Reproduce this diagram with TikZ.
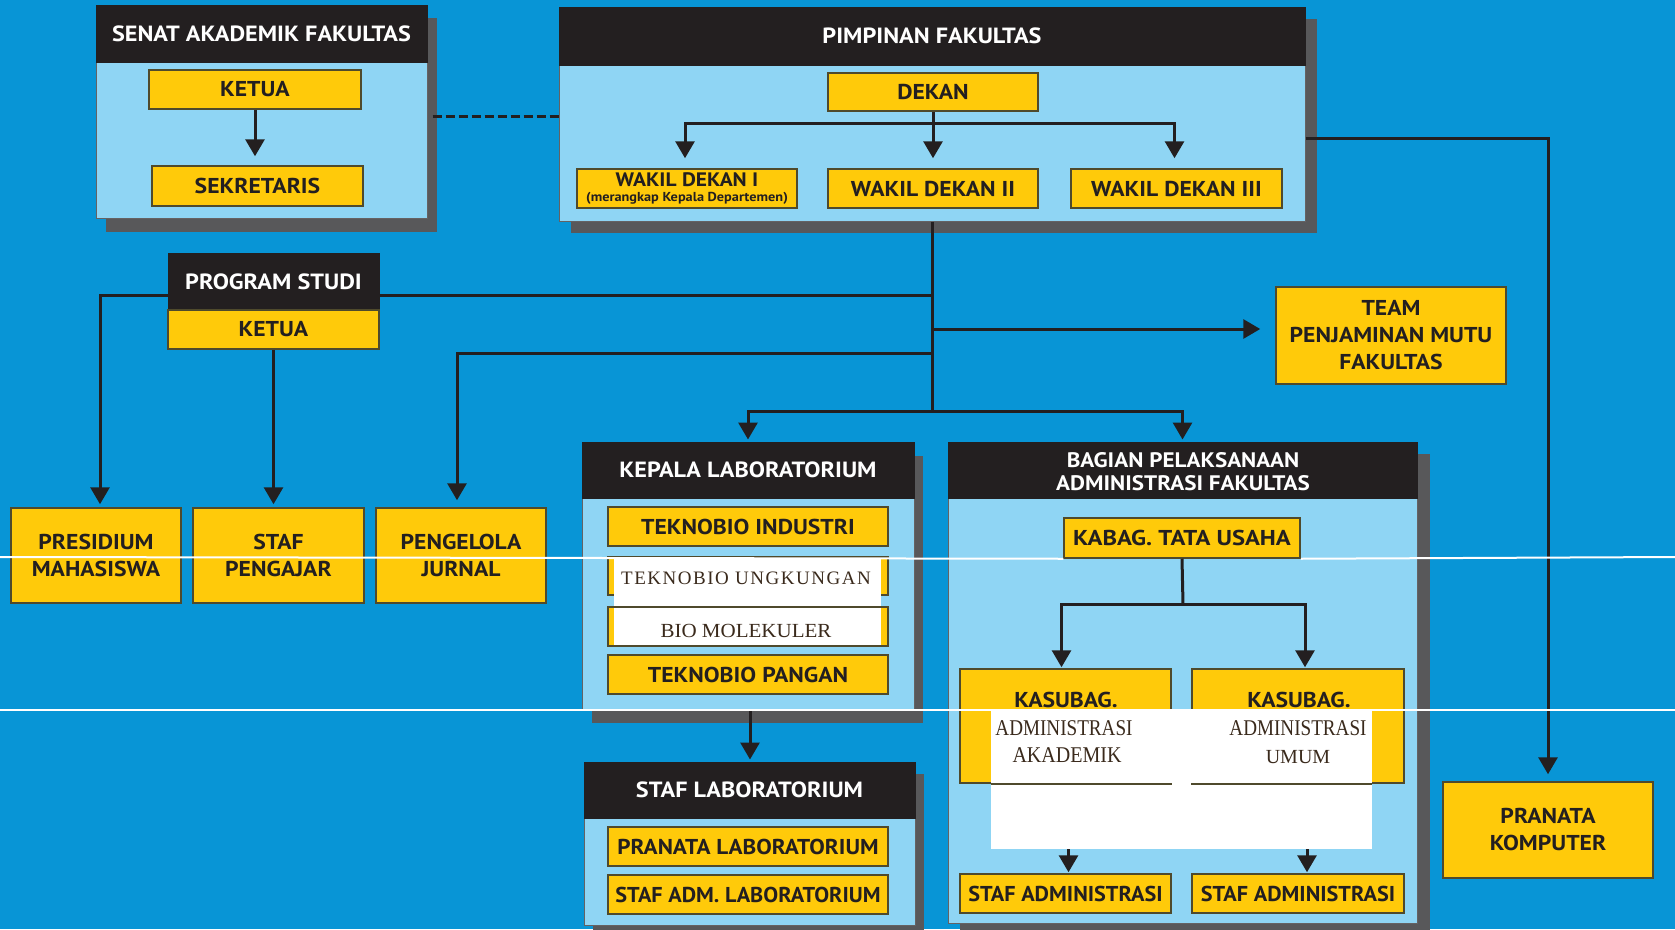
\documentclass[tikz,border=0pt]{standalone}
\usepackage{fontspec}
\setmainfont{PT Sans}[FakeStretch=1.1]
\newfontfamily\serifx{Liberation Serif}
\newfontfamily\serifwide{Liberation Serif}[LetterSpace=8]
\usetikzlibrary{arrows.meta,calc}
\definecolor{bgblue}{HTML}{0895D6}
\definecolor{lightb}{HTML}{8FD5F4}
\definecolor{hdr}{HTML}{231F20}
\definecolor{ylw}{HTML}{FFCA0A}
\definecolor{ybrd}{HTML}{4F4A2C}
\definecolor{shd}{HTML}{58585A}
\definecolor{txt}{HTML}{231F20}
\definecolor{sertxt}{HTML}{3A2A1C}
\tikzset{
  ybox/.style={fill=ylw, draw=ybrd, line width=1.5pt, inner sep=0pt, text=txt,
    font=\bfseries\fontsize{21.5}{27}\selectfont, align=center},
  hbox/.style={fill=hdr, draw=hdr, line width=1pt, inner sep=0pt, text=white,
    font=\bfseries\fontsize{22}{23}\selectfont, align=center},
  bbox/.style={fill=lightb, draw=hdr!70, line width=1pt, inner sep=0pt},
  sbox/.style={fill=shd, inner sep=0pt},
  wpatch/.style={fill=white, inner sep=0pt},
  conn/.style={line width=3pt, draw=hdr},
  arr/.style={conn, -{Triangle[width=19pt,length=17pt]}},
  stxt/.style={text=sertxt, font=\serifx\fontsize{20}{22}\selectfont, inner sep=0pt},
  wline/.style={draw=white, line width=2pt}
}
% #1 style, #2 name, #3 x1, #4 y1, #5 x2, #6 y2, #7 text
\newcommand\mkbox[7]{%
  \pgfmathsetmacro\mkcx{(#3+#5)/2}\pgfmathsetmacro\mkcy{(#4+#6)/2}%
  \pgfmathsetmacro\mkw{#5-#3}\pgfmathsetmacro\mkh{#6-#4}%
  \node[#1, minimum width=\mkw pt, minimum height=\mkh pt] (#2) at (\mkcx,\mkcy) {#7};}
\begin{document}
\begin{tikzpicture}[x=1pt,y=-1pt]
\useasboundingbox (0,0) rectangle (1675,929);
\fill[bgblue] (0,0) rectangle (1675,929);

% ---------- SENAT ----------
\mkbox{sbox}{senatsh}{106}{18}{437}{232}{}
\mkbox{bbox}{senat}{96}{5}{427}{218}{}
\mkbox{hbox}{senathd}{96}{5}{427}{62}{SENAT AKADEMIK FAKULTAS}
\mkbox{ybox}{sketua}{149}{70}{361}{109}{KETUA}
\mkbox{ybox}{ssek}{152}{166}{363}{206}{SEKRETARIS}
\draw[arr, shorten >=9pt] (sketua.south) -- (sketua.south |- ssek.north);

% ---------- PIMPINAN ----------
\mkbox{sbox}{pimpsh}{571}{19}{1317}{233}{}
\mkbox{bbox}{pimp}{559}{7}{1305}{221}{}
\mkbox{hbox}{pimphd}{559}{7}{1305}{65}{PIMPINAN FAKULTAS}
\mkbox{ybox}{dekan}{828}{73}{1038}{111}{DEKAN}
\mkbox{ybox, font=\bfseries\fontsize{19.5}{15}\selectfont}{wd1}{577}{169}{797}{208}%
  {WAKIL DEKAN I\\[-0.5pt]{\fontsize{13}{13}\selectfont (merangkap Kepala Departemen)}}
\mkbox{ybox}{wd2}{828}{169}{1038}{208}{WAKIL DEKAN II}
\mkbox{ybox}{wd3}{1071}{169}{1282}{208}{WAKIL DEKAN III}
\coordinate (br) at (933,123);
\draw[arr, shorten >=10pt] (dekan.south) -- (wd2.north);
\draw[arr, shorten >=10pt] (br) -| ([xshift=-2pt]wd1.north);
\draw[arr, shorten >=10pt] (br) -| ([xshift=-2pt]wd3.north);

% dashed link
\coordinate (dy) at (0,116);
\draw[conn, dash pattern=on 9pt off 4pt] ([xshift=5pt]senat.east |- dy) -- (pimp.west |- dy);

% ---------- PROGRAM STUDI ----------
\mkbox{hbox}{pshd}{168}{253}{379}{310}{PROGRAM STUDI}
\mkbox{ybox}{psketua}{168}{310}{379}{349}{KETUA}

\mkbox{ybox}{pres}{11}{508}{181}{603}{PRESIDIUM\\MAHASISWA}
\mkbox{ybox}{staf}{193}{508}{364}{603}{STAF\\PENGAJAR}
\mkbox{ybox}{jurnal}{376}{508}{546}{603}{PENGELOLA\\JURNAL}

\mkbox{ybox}{team}{1276}{287}{1506}{384}{TEAM\\PENJAMINAN MUTU\\FAKULTAS}
\mkbox{ybox}{pkom}{1443}{782}{1653}{878}{PRANATA\\KOMPUTER}

% ---------- KEPALA LAB ----------
\mkbox{sbox}{klabsh}{592}{456}{923}{723}{}
\mkbox{bbox}{klab}{582}{442}{914}{709}{}
\mkbox{hbox}{klabhd}{582}{442}{914}{498}{KEPALA LABORATORIUM}
\mkbox{ybox}{tind}{608}{507}{888}{546}{TEKNOBIO INDUSTRI}
\mkbox{ybox}{tling}{608}{557}{888}{595}{}
\mkbox{ybox}{tbio}{608}{607}{888}{646}{}
\mkbox{ybox}{tpan}{608}{655}{888}{694}{TEKNOBIO PANGAN}
\fill[white] (614,558) rectangle (881,606);
\fill[white] (614,608) rectangle (881,645);
\node[stxt, font=\serifwide\fontsize{19}{22}\selectfont] (tlingt) at (746,578) {TEKNOBIO UNGKUNGAN};
\node[stxt] (tbiot) at (746,631) {\scalebox{1.05}[1]{BIO MOLEKULER}};

% ---------- STAF LAB ----------
\mkbox{sbox}{slabsh}{593}{774}{924}{940}{}
\mkbox{bbox}{slab}{584}{762}{915}{925}{}
\mkbox{hbox}{slabhd}{584}{762}{915}{818}{STAF LABORATORIUM}
\mkbox{ybox}{plab}{608}{827}{888}{866}{\scalebox{0.98}[1]{PRANATA LABORATORIUM}}
\mkbox{ybox}{salab}{608}{875}{888}{914}{\scalebox{0.94}[1]{STAF ADM. LABORATORIUM}}
\draw[arr, shorten >=2pt] ([xshift=2pt]klab.south) -- ([xshift=2pt]klab.south |- slab.north);

% ---------- BAGIAN ----------
\mkbox{sbox}{bagsh}{960}{454}{1430}{940}{}
\mkbox{bbox}{bag}{948}{442}{1417}{923}{}
\mkbox{hbox}{baghd}{948}{442}{1417}{498}{}
\node[text=white, font=\bfseries\fontsize{21}{23}\selectfont, align=center, inner sep=0pt]
  (baght) at (1183,472) {BAGIAN PELAKSANAAN\\ADMINISTRASI FAKULTAS};
\mkbox{ybox}{kabag}{1064}{518}{1300}{558}{\scalebox{1.04}[1]{KABAG. TATA USAHA}}
\mkbox{ybox}{ksa}{960}{669}{1171}{783}{}
\mkbox{ybox}{ksu}{1192}{669}{1404}{783}{}
\mkbox{ybox}{sa1}{960}{874}{1171}{913}{\scalebox{0.94}[1]{STAF ADMINISTRASI}}
\mkbox{ybox}{sa2}{1192}{874}{1404}{913}{\scalebox{0.94}[1]{STAF ADMINISTRASI}}
\coordinate (kb) at (1183,604);
\draw[conn] (kabag.south) -- (kb);
\draw[arr, shorten >=1pt] (kb) -| ([xshift=-4pt]ksa.north);
\draw[arr, shorten >=1pt] (kb) -| ([xshift=7pt]ksu.north);
\draw[arr, shorten >=1pt] ([xshift=3pt]ksa.south) -- ([xshift=3pt]sa1.north);
\draw[arr, shorten >=1pt] ([xshift=9pt]ksu.south) -- ([xshift=9pt]sa2.north);
\mkbox{wpatch}{wp}{991}{711}{1372}{849}{}
\draw[ybrd, line width=1.5pt] (wp.west |- ksa.south) -- (ksa.south east);
\draw[ybrd, line width=1.5pt] (ksu.south west) -- (wp.east |- ksu.south);
\node[text=txt, font=\bfseries\fontsize{21.5}{24}\selectfont, inner sep=0pt] (ksat) at (1066,700) {KASUBAG.};
\node[text=txt, font=\bfseries\fontsize{21.5}{24}\selectfont, inner sep=0pt] (ksut) at (1299,700) {KASUBAG.};
\node[stxt, font=\serifx\fontsize{22.5}{24}\selectfont] (ksa1) at (1064,728) {\scalebox{0.85}[1]{ADMINISTRASI}};
\node[stxt, font=\serifx\fontsize{22.5}{24}\selectfont] (ksa2) at (1067,755) {\scalebox{0.89}[1]{AKADEMIK}};
\node[stxt, font=\serifx\fontsize{22.5}{24}\selectfont] (ksu1) at (1298,728) {\scalebox{0.85}[1]{ADMINISTRASI}};
\node[stxt, font=\serifx\fontsize{20}{24}\selectfont] (ksu2) at (1298,757) {UMUM};

% ---------- trunk connectors ----------
\coordinate (y295) at (0,295);
\coordinate (y329) at (0,329);
\coordinate (y353) at (0,353);
\coordinate (y411) at (0,411);
\coordinate (y138) at (0,138);
\draw[conn] (pimp.south) -- (pimp.south |- y411);
\draw[conn] (pshd.east |- y295) -- (pimp.south |- y295);
\draw[arr, shorten >=3pt] (pshd.west |- y295) -| ([xshift=4pt]pres.north);
\draw[arr, shorten >=3pt] (psketua.south) -- (psketua.south |- staf.north);
\draw[arr, shorten >=7pt] (pimp.south |- y353) -| ([xshift=-4pt]jurnal.north);
\draw[arr, shorten >=15pt] (pimp.south |- y329) -- (team.west |- y329);
\draw[arr, shorten >=2pt] (pimp.south |- y411) -| (klab.north);
\draw[arr, shorten >=2pt] (pimp.south |- y411) -| (bag.north);
\draw[arr, shorten >=7pt] (pimp.east |- y138) -| (pkom.north);

% ---------- white scan lines ----------
\draw[wline] (0,557) -- (kabag.south west);
\draw[wline] (kabag.south east) -- (1675,557);
\draw[wline] (0,710) -- (1675,710);
\end{tikzpicture}
\end{document}
